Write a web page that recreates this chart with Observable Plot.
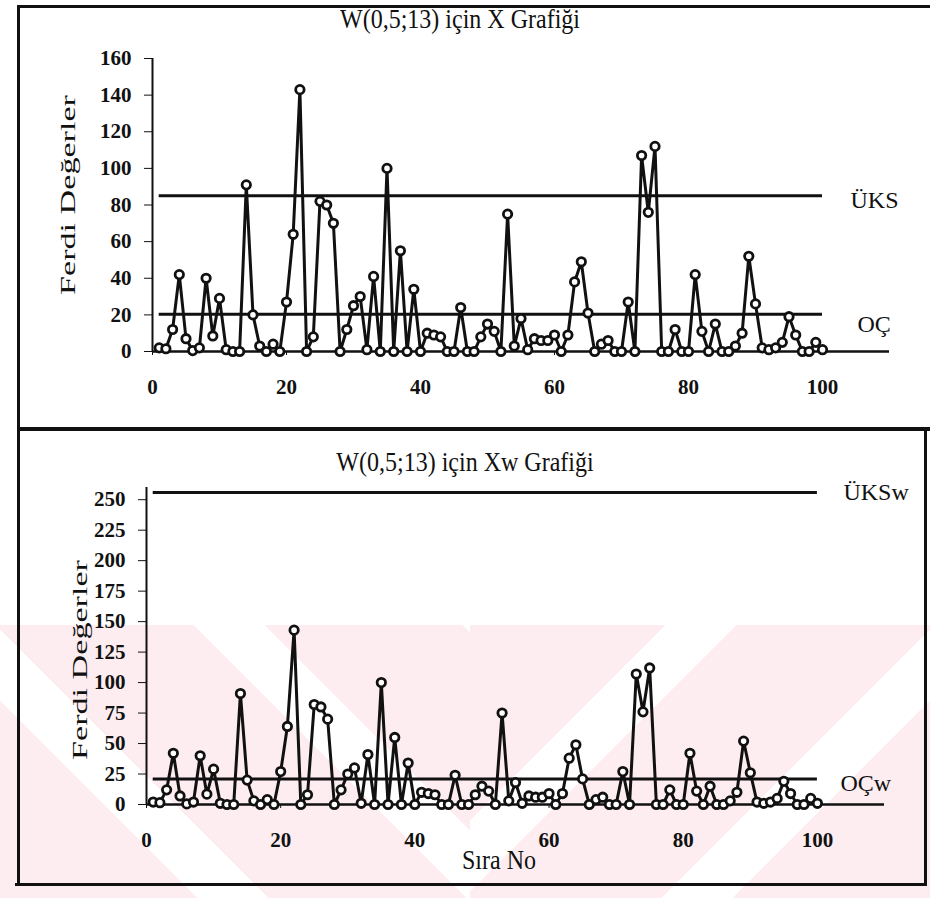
<!DOCTYPE html>
<html><head><meta charset="utf-8">
<script src="https://cdn.jsdelivr.net/npm/d3@7"></script>
<script src="https://cdn.jsdelivr.net/npm/@observablehq/plot@0.6"></script>
<style>
html,body{margin:0;padding:0;background:#fff;}
#root{position:relative;width:930px;height:898px;overflow:hidden;font-family:"Liberation Serif","Times New Roman",serif;color:#111;}
.title{position:absolute;font-size:24px;line-height:1;transform:translateX(-50%) scaleY(1.15);white-space:nowrap;}
.ylab{position:absolute;font-size:22px;line-height:1;white-space:nowrap;transform:translate(-50%,-50%) rotate(-90deg) scaleX(1.55);}
.frame{position:absolute;background:#111;}
.wm{position:absolute;}
.plot{position:absolute;left:0;}
</style></head>
<body><div id="root">
  <div class="wm" style="left:0;top:625px;width:470px;height:273px;background:repeating-linear-gradient(45deg,#fdedf0 0 140px,#fff 140px 190px);"></div>
  <div class="wm" style="left:470px;top:625px;width:460px;height:273px;background:repeating-linear-gradient(-45deg,#fdedf0 0 140px,#fff 140px 190px);"></div>
  <div class="frame" style="left:18px;top:5px;width:912px;height:3px;"></div>
  <div class="frame" style="left:17px;top:5px;width:3px;height:880px;"></div>
  <div class="frame" style="left:17px;top:427px;width:913px;height:4px;"></div>
  <div class="frame" style="left:15px;top:883px;width:912px;height:3px;"></div>
  <div class="frame" style="left:924px;top:430px;width:3px;height:455px;"></div>
  <div class="title" id="t1" style="left:460px;top:7px;"></div>
  <div class="title" id="t2" style="left:465px;top:450px;"></div>
  <div class="ylab" id="y1" style="left:68px;top:195px;"></div>
  <div class="ylab" id="y2" style="left:80px;top:660px;"></div>
  <div class="title" id="xl" style="left:499px;top:848px;"></div>
</div>
<script>
// Texts
const titleTop = "W(0,5;13) için X Grafiği";
const titleBottom = "W(0,5;13) için Xw Grafiği";
const yTitle = "Ferdi Değerler";
const xTitle = "Sıra No";

// X axis (Sıra No) ticks and y ticks
const xTicks = [0, 20, 40, 60, 80, 100];
const yTicksTop = [0, 20, 40, 60, 80, 100, 120, 140, 160];
const yTicksBottom = [0, 25, 50, 75, 100, 125, 150, 175, 200, 225, 250];

// Sample numbers 1..100
const siraNo = d3.range(1, 101);

// Individual values, X chart
const xValues = [2,1.5,12,42,7,0.5,2,40,8.5,29,
 1,0,0,91,20,3,0,4,0,27,
 64,143,0,8,82,80,70,0,12,25,
 30,1,41,0,100,0,55,0,34,0,
 10,9,8,0,0,24,0,0,8,15,
 11,0,75,3,18,1,7,6,6,9,
 0,9,38,49,21,0,4,6,0,0,
 27,0,107,76,112,0,0,12,0,0,
 42,11,0,15,0,0,3,10,52,26,
 2,1,2,5,19,9,0,0,5,1];

// Individual values, Xw chart
const xwValues = [2,1.5,12,42,7,0.5,2,40,8.5,29,
 1,0,0,91,20,3,0,4,0,27,
 64,143,0,8,82,80,70,0,12,25,
 30,1,41,0,100,0,55,0,34,0,
 10,9,8,0,0,24,0,0,8,15,
 11,0,75,3,18,1,7,6,6,9,
 0,9,38,49,21,0,4,6,0,0,
 27,0,107,76,112,0,0,12,0,0,
 42,11,0,15,0,0,3,10,52,26,
 2,1,2,5,19,9,0,0,5,1];

// Control limits
const limitNamesTop = ["ÜKS", "OÇ"];
const limitValuesTop = [85, 20.3];
const limitNamesBottom = ["ÜKSw", "OÇw"];
const limitValuesBottom = [256, 21];

document.getElementById("t1").textContent = titleTop;
document.getElementById("t2").textContent = titleBottom;
document.getElementById("y1").textContent = yTitle;
document.getElementById("y2").textContent = yTitle;
document.getElementById("xl").textContent = xTitle;

const root = document.getElementById("root");

function panel({values, yTicks, yMax, limitNames, limitValues, height, mt, mb, ml, mr, top, labelDx, labelDy}) {
  const data = siraNo.map((s, i) => ({s, v: values[i]}));
  const limits = limitNames.map((n, i) => ({n, v: limitValues[i]}));
  const labelMarks = limits.map((d, i) =>
    Plot.text([d], {x: 100, y: "v", text: "n", textAnchor: "start", dx: labelDx[i], dy: labelDy[i],
      fontSize: 24, fontWeight: "normal", fill: "#111"}));
  const svg = Plot.plot({
    width: 930, height,
    marginTop: mt, marginBottom: mb, marginLeft: ml, marginRight: mr,
    style: {background: "transparent", fontFamily: "'Liberation Serif', serif", fontSize: "21px", fontWeight: "bold", color: "#111", overflow: "visible"},
    x: {domain: [0, 110], ticks: xTicks, tickSize: 4, tickPadding: 24, label: null},
    y: {domain: [0, yMax], ticks: yTicks, tickSize: 8, tickPadding: 13, label: null},
    marks: [
      Plot.ruleX([0], {y1: 0, y2: yMax, stroke: "#111", strokeWidth: 2}),
      Plot.ruleY([0], {x1: 0, x2: 110, stroke: "#111", strokeWidth: 2.5}),
      Plot.ruleY(limits, {y: "v", x1: 1, x2: 100, stroke: "#111", strokeWidth: 3}),
      ...labelMarks,
      Plot.line(data, {x: "s", y: "v", stroke: "#111", strokeWidth: 3}),
      Plot.dot(data, {x: "s", y: "v", r: 4.2, fill: "white", stroke: "#111", strokeWidth: 2.8})
    ]
  });
  svg.classList.add("plot");
  svg.style.top = top + "px";
  root.appendChild(svg);
}

panel({values: xValues, yTicks: yTicksTop, yMax: 160, limitNames: limitNamesTop, limitValues: limitValuesTop,
  height: 428, mt: 58, mb: 77, ml: 152, mr: 41, top: 0, labelDx: [28, 35], labelDy: [4, 10]});
panel({values: xwValues, yTicks: yTicksBottom, yMax: 260, limitNames: limitNamesBottom, limitValues: limitValuesBottom,
  height: 455, mt: 57, mb: 81, ml: 146, mr: 46, top: 430, labelDx: [26, 23], labelDy: [0, 4]});
</script>
</body></html>
